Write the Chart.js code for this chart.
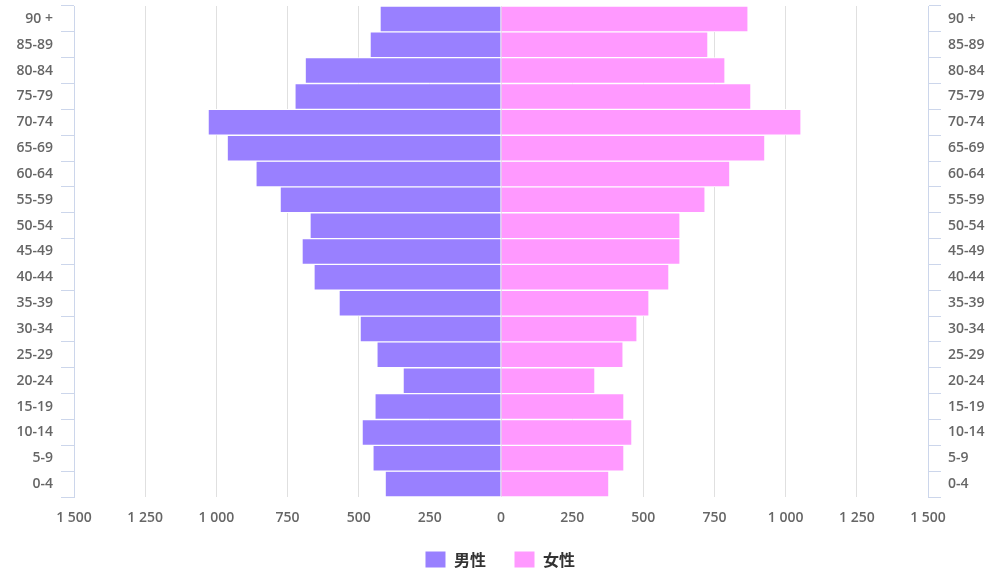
<!DOCTYPE html>
<html>
<head>
<meta charset="utf-8">
<script src="https://cdn.jsdelivr.net/npm/chart.js@4/dist/chart.umd.min.js"></script>
<style>
  html, body { margin: 0; padding: 0; background: #fff; }
  #wrap { width: 1000px; height: 572px; }
</style>
</head>
<body>
<div id="wrap"><canvas id="pyramid"></canvas></div>
<script>
// age groups, youngest first (drawn bottom to top)
const ageGroups = ["0-4", "5-9", "10-14", "15-19", "20-24", "25-29", "30-34", "35-39", "40-44",
  "45-49", "50-54", "55-59", "60-64", "65-69", "70-74", "75-79", "80-84", "85-89", "90 +"];
const male = [407, 450, 488, 443, 344, 436, 495, 569, 657, 699, 671, 776, 861, 962, 1029, 724, 688, 460, 425];
const female = [379, 432, 460, 432, 330, 429, 478, 520, 590, 629, 629, 717, 804, 927, 1054, 878, 787, 727, 868];
const seriesNames = ["男性", "女性"];

const tickFont = { family: "'Open Sans', sans-serif", size: 14, weight: "600" };
const axisBlue = "#ccd6eb";

function fmt(v) {
  return String(Math.abs(v)).replace(/\B(?=(\d{3})+(?!\d))/g, " ");
}

// side axes: fixed width, no extra label padding above/below the plot
function sideFit(width) {
  return (s) => {
    s.width = width;
    s.paddingTop = 0;
    s.paddingBottom = 0;
  };
}

new Chart(document.getElementById("pyramid"), {
  type: "bar",
  data: {
    labels: ageGroups,
    datasets: [
      { label: seriesNames[0], data: male.map((v) => -v), backgroundColor: "#9980ff", borderColor: "#ffffff", borderWidth: 1 },
      { label: seriesNames[1], data: female, backgroundColor: "#ff99ff", borderColor: "#ffffff", borderWidth: 1 }
    ]
  },
  options: {
    indexAxis: "y",
    responsive: true,
    maintainAspectRatio: false,
    animation: false,
    barPercentage: 1,
    categoryPercentage: 1,
    layout: { padding: { top: 6, left: 0, right: 0, bottom: -6 } },
    plugins: {
      tooltip: { enabled: false },
      legend: {
        position: "bottom",
        labels: {
          boxWidth: 21,
          boxHeight: 17,
          padding: 4,
          color: "#333333",
          font: { family: "'Noto Sans CJK JP', sans-serif", size: 16, weight: "bold" },
          // widen the gap after the first item (legend has a single padding value)
          generateLabels: (chart) => Chart.defaults.plugins.legend.labels.generateLabels(chart)
            .map((item, i) => (i === 0 ? { ...item, text: item.text + "\u3000\u2002" } : item))
        }
      }
    },
    scales: {
      x: {
        stacked: true,
        min: -1500,
        max: 1500,
        ticks: { stepSize: 250, padding: 13, color: "#666666", font: tickFont, callback: (v) => fmt(v) },
        grid: { color: "#e0e0e0", drawTicks: false },
        border: { display: false },
        afterFit: (s) => { s.height = 50; }
      },
      y: {
        stacked: true,
        reverse: true,
        position: "left",
        ticks: { padding: 8, color: "#666666", font: tickFont },
        grid: { offset: true, drawOnChartArea: false, color: axisBlue, tickLength: 13 },
        border: { color: axisBlue },
        afterFit: sideFit(74)
      },
      y2: {
        type: "category",
        labels: ageGroups,
        reverse: true,
        position: "right",
        ticks: { padding: 7, color: "#666666", font: tickFont },
        grid: { offset: true, drawOnChartArea: false, color: axisBlue, tickLength: 13 },
        border: { color: axisBlue },
        afterFit: sideFit(72)
      }
    }
  }
});
</script>
</body>
</html>
